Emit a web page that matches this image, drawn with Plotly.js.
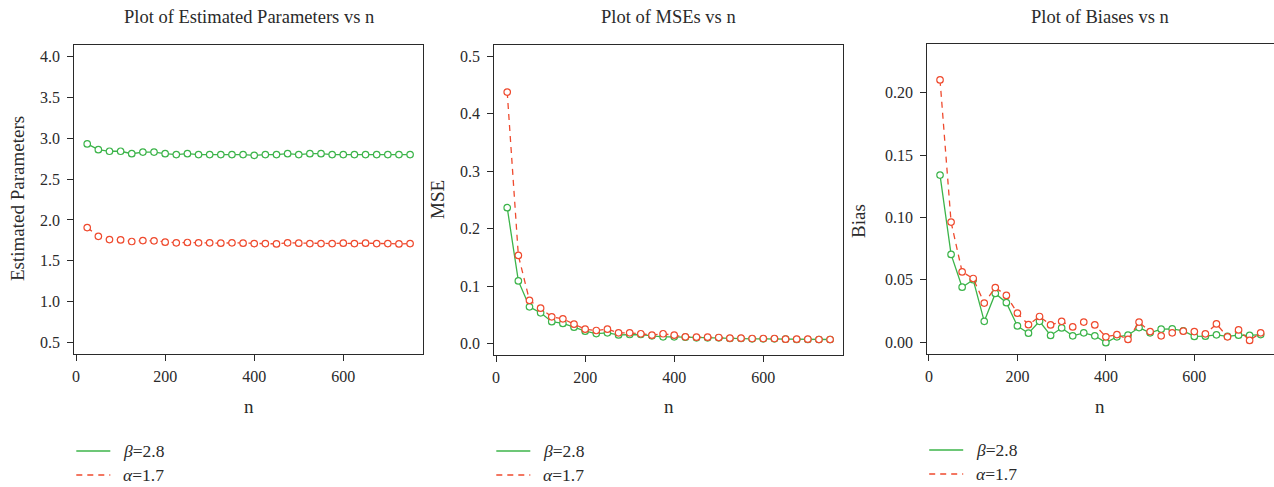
<!DOCTYPE html>
<html>
<head>
<meta charset="utf-8">
<script src="https://cdn.plot.ly/plotly-3.0.1.min.js"></script>
<style>html,body{margin:0;padding:0;background:#fff;}#chart{width:1274px;height:487px;}</style>
</head>
<body>
<div id="chart"></div>
<script>
// ---- data ----
const n = [25,50,75,100,125,150,175,200,225,250,275,300,325,350,375,400,425,450,475,500,525,550,575,600,625,650,675,700,725,750];

const estBeta  = [2.93,2.86,2.84,2.84,2.81,2.83,2.83,2.81,2.80,2.81,2.80,2.80,2.80,2.80,2.80,2.79,2.80,2.80,2.81,2.80,2.81,2.81,2.80,2.80,2.80,2.80,2.80,2.80,2.80,2.80];
const estAlpha = [1.906,1.80,1.76,1.756,1.736,1.748,1.744,1.728,1.72,1.724,1.72,1.72,1.716,1.72,1.716,1.711,1.711,1.707,1.72,1.716,1.711,1.711,1.711,1.716,1.711,1.716,1.711,1.711,1.707,1.711];

const mseBeta  = [0.2366,0.109,0.064,0.0535,0.038,0.035,0.0285,0.0215,0.0174,0.0186,0.015,0.0157,0.0157,0.0134,0.0116,0.0116,0.011,0.0099,0.0099,0.0099,0.0087,0.0087,0.0081,0.0081,0.0081,0.0076,0.007,0.007,0.007,0.007];
const mseAlpha = [0.438,0.1535,0.075,0.0616,0.0465,0.043,0.0337,0.025,0.0227,0.025,0.0186,0.0186,0.017,0.0145,0.017,0.0145,0.0116,0.011,0.011,0.0105,0.0093,0.0093,0.0087,0.0087,0.0087,0.0076,0.0076,0.0076,0.007,0.007];

const biasBeta  = [0.134,0.0703,0.044,0.050,0.0166,0.039,0.0316,0.0129,0.0071,0.0166,0.0053,0.0113,0.005,0.0074,0.005,-0.0005,0.0042,0.0055,0.0116,0.0074,0.0103,0.0105,0.009,0.0045,0.0047,0.0058,0.0045,0.0055,0.0053,0.006];
const biasAlpha = [0.2104,0.0963,0.0563,0.051,0.0313,0.0437,0.0374,0.0232,0.0139,0.0205,0.0137,0.0166,0.0121,0.016,0.0137,0.0042,0.006,0.0021,0.016,0.0084,0.005,0.0074,0.0087,0.0084,0.0066,0.0145,0.0042,0.0097,0.0013,0.0074];

const seriesNames = ["<i>β</i>=2.8", "<i>α</i>=1.7"];
const panelTitles = ["Plot of Estimated Parameters vs n", "Plot of MSEs vs n", "Plot of Biases vs n"];
const yTitles = ["Estimated Parameters", "MSE", "Bias"];
const xTitle = "n";
const xTickVals = [0,200,400,600];

// ---- style ----
const W = 1274, H = 487;
const GREEN = "#3cb44a", RED = "#ef4a2e";
const DASH = "6px,5px";
const FONT = "Liberation Serif, Times New Roman, serif";
const INK = "#2a2a2a";
const TICK = 16, TITLE = 18.5, YTITLE = 19, LEG = 17.5;

const panels = [
  {yb: estBeta, ya: estAlpha, left: 74.3, right: 423, top: 45, bottom: 354, yr: [0.36, 4.14], dtick: 0.5, fmt: ".1f", ytx: 17, yty: 199, legY: [451, 475]},
  {yb: mseBeta, ya: mseAlpha, left: 494.3, right: 843, top: 45, bottom: 355, yr: [-0.02, 0.52], dtick: 0.1, fmt: ".1f", ytx: 437, yty: 200, legY: [451, 475]},
  {yb: biasBeta, ya: biasAlpha, left: 927.2, right: 1273.5, top: 44, bottom: 353.5, yr: [-0.0092, 0.2392], dtick: 0.05, fmt: ".2f", ytx: 858, yty: 221, legY: [450, 474]}
];

const traces = [];
const layout = {
  width: W, height: H,
  margin: {l: 0, r: 0, t: 0, b: 0},
  paper_bgcolor: "#fff", plot_bgcolor: "#fff",
  font: {family: FONT, color: INK, size: TICK},
  showlegend: false,
  annotations: [],
  shapes: []
};
const px = v => v / W, py = v => 1 - v / H;

panels.forEach((p, i) => {
  const k = i === 0 ? "" : String(i + 1);
  const xa = "x" + k, ya = "y" + k;
  traces.push({
    x: n, y: p.yb, xaxis: xa, yaxis: ya, mode: "lines+markers", name: seriesNames[0],
    line: {color: GREEN, width: 1.3},
    marker: {symbol: "circle", size: 6.5, color: "#fff", line: {color: GREEN, width: 1.2}}
  });
  traces.push({
    x: n, y: p.ya, xaxis: xa, yaxis: ya, mode: "lines+markers", name: seriesNames[1],
    line: {color: RED, width: 1.3, dash: DASH},
    marker: {symbol: "circle", size: 6.5, color: "#fff", line: {color: RED, width: 1.2}}
  });

  layout["xaxis" + k] = {
    domain: [px(p.left), px(p.right)], anchor: ya,
    range: [-4, 779], tickvals: xTickVals, ticks: "outside", ticklen: 6, tickcolor: INK,
    showline: true, mirror: true, linecolor: INK, linewidth: 1,
    showgrid: false, zeroline: false, ticklabelstandoff: 2,
    tickfont: {family: FONT, size: TICK, color: INK}
  };
  layout["yaxis" + k] = {
    domain: [py(p.bottom), py(p.top)], anchor: xa,
    range: p.yr, dtick: p.dtick, tick0: 0, tickformat: p.fmt, ticks: "outside", ticklen: 6, tickcolor: INK,
    showline: true, mirror: true, linecolor: INK, linewidth: 1,
    showgrid: false, zeroline: false, ticklabelstandoff: 4,
    tickfont: {family: FONT, size: TICK, color: INK}
  };

  // panel title, axis titles
  layout.annotations.push({
    text: panelTitles[i], xref: "paper", yref: "paper",
    x: px((p.left + p.right) / 2), y: py(17), xanchor: "center", yanchor: "middle",
    showarrow: false, font: {family: FONT, size: TITLE, color: INK}
  });
  layout.annotations.push({
    text: yTitles[i], xref: "paper", yref: "paper", textangle: -90,
    x: px(p.ytx), y: py(p.yty), xanchor: "center", yanchor: "middle",
    showarrow: false, font: {family: FONT, size: YTITLE, color: INK}
  });
  layout.annotations.push({
    text: xTitle, xref: "paper", yref: "paper",
    x: px((p.left + p.right) / 2), y: py(406), xanchor: "center", yanchor: "middle",
    showarrow: false, font: {family: FONT, size: YTITLE, color: INK}
  });

  // legend (line samples + labels) below each panel
  const colors = [GREEN, RED], dashes = ["solid", DASH];
  for (let j = 0; j < 2; j++) {
    layout.shapes.push({
      type: "line", xref: "paper", yref: "paper",
      x0: px(p.left + 2), x1: px(p.left + 36), y0: py(p.legY[j]), y1: py(p.legY[j]),
      line: {color: colors[j], width: 1.5, dash: dashes[j]}
    });
    layout.annotations.push({
      text: seriesNames[j], xref: "paper", yref: "paper",
      x: px(p.left + 47), y: py(p.legY[j]), xanchor: "left", yanchor: "middle",
      showarrow: false, font: {family: FONT, size: LEG, color: INK}
    });
  }
});

Plotly.newPlot("chart", traces, layout, {displayModeBar: false, staticPlot: true});
</script>
</body>
</html>
